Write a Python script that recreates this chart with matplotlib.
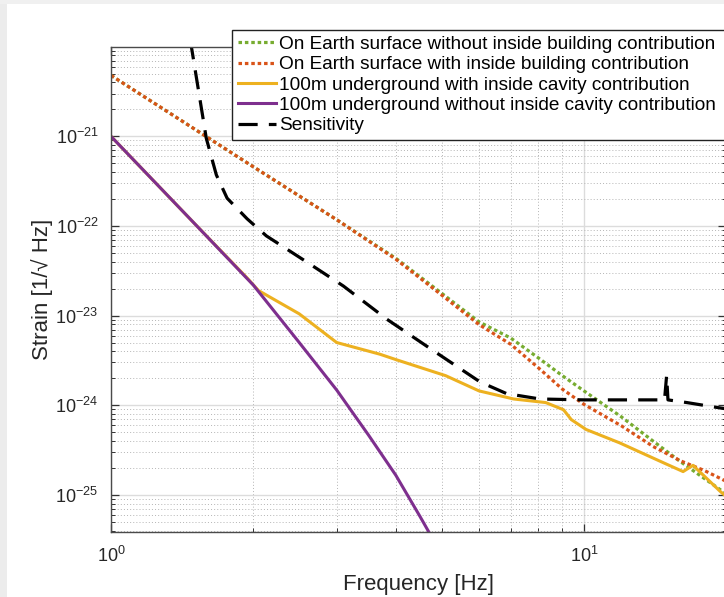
import numpy as np
import matplotlib
matplotlib.use("Agg")
import matplotlib.pyplot as plt
from matplotlib.patches import Rectangle
from matplotlib.ticker import LogLocator, NullFormatter

# ---- data (log10 of strain) ----
f_green = [1, 2, 3, 4, 5, 6, 7, 8, 9, 10, 12, 14, 16, 18, 20]
lg_green = [-20.32, -21.34, -21.93, -22.36, -22.75, -23.07, -23.25, -23.47, -23.67,
            -23.84, -24.13, -24.40, -24.63, -24.82, -24.99]

f_red = [1, 2, 3, 4, 5, 6, 7, 8, 9, 10, 12, 14, 16, 18, 20]
lg_red = [-20.32, -21.34, -21.93, -22.37, -22.77, -23.10, -23.32, -23.58, -23.82,
          -23.99, -24.23, -24.46, -24.62, -24.73, -24.85]

f_orange = [1, 1.5, 1.94, 2.05, 2.5, 3.0, 3.7, 4.0, 5.1, 6.0, 7.1, 8.3, 9.05, 9.4,
            10.1, 11.9, 14.7, 16.2, 17.0, 19.4, 20]
lg_orange = [-21.0, -21.97, -22.58, -22.72, -22.98, -23.30, -23.43, -23.49, -23.67,
             -23.84, -23.93, -23.97, -24.05, -24.16, -24.27, -24.42, -24.64, -24.74,
             -24.67, -24.96, -25.02]

f_purple = [1, 1.5, 2, 2.5, 3, 3.5, 4, 4.5, 4.8]
lg_purple = [-21.0, -21.97, -22.66, -23.30, -23.83, -24.33, -24.78, -25.24, -25.50]

f_sens = [1.42, 1.48, 1.59, 1.67, 1.76, 1.94, 2.13, 2.59, 3.1, 3.83, 4.8, 6.03, 6.86,
          8.07, 10, 12, 14.8, 14.95, 15.05, 16.5, 19.4, 20]
lg_sens = [-19.6, -20.01, -21.02, -21.43, -21.69, -21.92, -22.11, -22.40, -22.67,
           -23.04, -23.39, -23.74, -23.87, -23.93, -23.94, -23.94, -23.94, -23.67,
           -23.94, -23.97, -24.03, -24.04]

labels = ["On Earth surface without inside building contribution",
          "On Earth surface with inside building contribution",
          "100m underground with inside cavity contribution",
          "100m underground without inside cavity contribution",
          "Sensitivity"]
yticks = [1e-25, 1e-24, 1e-23, 1e-22, 1e-21]
xticks = [1, 10]

# ---- style ----
plt.rcParams['font.family'] = ['Liberation Sans', 'DejaVu Sans']
plt.rcParams['mathtext.fontset'] = 'custom'
plt.rcParams['mathtext.rm'] = 'Liberation Sans'
plt.rcParams['mathtext.it'] = 'Liberation Sans:italic'
plt.rcParams['mathtext.bf'] = 'Liberation Sans:bold'

fig = plt.figure(figsize=(7.24, 5.97), dpi=100)
fig.patch.set_facecolor('white')
# light gray page strips at left and top
fig.patches.append(Rectangle((0, 0), 7/724, 1, transform=fig.transFigure,
                             facecolor='#ececec', edgecolor='none', zorder=-10))
fig.patches.append(Rectangle((0, 1-4/597), 1, 4/597, transform=fig.transFigure,
                             facecolor='#f0f0f0', edgecolor='none', zorder=-10))

W, H = 724, 597
left_px, bottom_px, top_px = 111, 532, 47
dec_x = 473.0
ax_w = np.log10(20) * dec_x
ax = fig.add_axes([left_px / W, (H - bottom_px) / H, ax_w / W, (bottom_px - top_px) / H])

def p(v):
    return [10.0 ** x for x in v]

ax.plot(f_green, p(lg_green), color='#77AC30', lw=2.3, linestyle=(0, (1.1, 0.9)),
        dash_capstyle='butt', label=labels[0])
ax.plot(f_red, p(lg_red), color='#D95319', lw=2.3, linestyle=(0, (1.1, 0.9)),
        dash_capstyle='butt', label=labels[1])
ax.plot(f_orange, p(lg_orange), color='#EDB120', lw=2.2, label=labels[2])
ax.plot(f_purple, p(lg_purple), color='#7E2F8E', lw=2.2, label=labels[3])
ax.plot(f_sens, p(lg_sens), color='black', lw=2.3, linestyle=(0, (6, 3.5)),
        label=labels[4])

ax.set_xscale('log')
ax.set_yscale('log')
ax.set_xlim(1, 20)
ax.set_ylim(10 ** -25.414, 10 ** -20.003)
ax.set_xticks(xticks)
ax.set_yticks(yticks)
ax.xaxis.set_minor_locator(LogLocator(base=10, subs=np.arange(2, 10), numticks=20))
ax.yaxis.set_minor_locator(LogLocator(base=10, subs=np.arange(2, 10), numticks=20))
ax.xaxis.set_minor_formatter(NullFormatter())
ax.yaxis.set_minor_formatter(NullFormatter())

ax.grid(True, which='major', color='#dcdcdc', lw=1.0, linestyle='-')
ax.grid(True, which='minor', color='#b4b4b4', lw=0.7, linestyle=(0, (1, 2.2)))
ax.set_axisbelow(True)

for s in ['left', 'bottom', 'top', 'right']:
    ax.spines[s].set_color('#4a4a4a')
    ax.spines[s].set_linewidth(1.0)

ax.tick_params(which='major', direction='in', length=6, width=0.9, color='#333333',
               labelsize=13, labelcolor='#262626', top=True, right=True, pad=9)
ax.tick_params(which='minor', direction='in', length=3, width=0.7, color='#333333',
               top=True, right=True)
ax.tick_params(axis='x', which='major', pad=10)

ax.set_xlabel('Frequency [Hz]', fontsize=16, color='#262626', labelpad=6)
ax.set_ylabel('Strain [1/\u221a Hz]', fontsize=16, color='#262626', labelpad=2)

leg = ax.legend(loc='upper left', bbox_to_anchor=(232 / W, 0, (745 - 232) / W, 1 - 30 / H),
                bbox_transform=fig.transFigure, mode='expand', fontsize=13.7,
                frameon=True, fancybox=False, framealpha=1, edgecolor='#222222',
                borderpad=0.3, labelspacing=0.16, handlelength=2.0, handletextpad=0.15,
                borderaxespad=0)
leg.get_frame().set_linewidth(1.0)
leg.set_zorder(10)

fig.savefig('out.png', dpi=100)
